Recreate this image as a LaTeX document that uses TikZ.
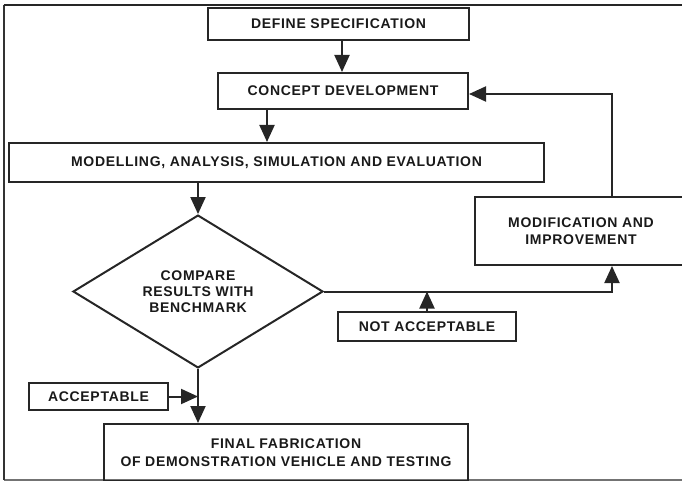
\documentclass[tikz,border=0pt]{standalone}
\usepackage{fontspec}
\setmainfont[LetterSpace=5]{Liberation Sans}
\usetikzlibrary{arrows.meta,shapes.geometric,calc}
\begin{document}
\begin{tikzpicture}[x=1pt,y=-1pt,
  box/.style={draw=black!85, line width=2pt, inner sep=0pt, align=center, anchor=north west,
    text=black!90, font=\fontsize{14}{17}\selectfont\bfseries},
  arr/.style={draw=black!85, line width=2pt, -{Triangle[width=15pt,length=17pt]}},
  frame/.style={line width=1.5pt}]
\useasboundingbox (0,0) rectangle (682,481);
% outer frame
\draw[frame, black!55] (4,480) -- (682,480);
\draw[frame, black!80] (4,5) -- (4,480);
\draw[line width=2.2pt, black!85] (3.5,5) -- (682,5);
% nodes
\node[box, minimum width=261pt, minimum height=32pt] (ds) at (207,7) {DEFINE SPECIFICATION};
\node[box, minimum width=250pt, minimum height=36pt] (cd) at (217,72) {CONCEPT DEVELOPMENT};
\node[box, minimum width=535pt, minimum height=39pt] (mo) at (8,142) {MODELLING, ANALYSIS, SIMULATION AND EVALUATION};
\node[box, diamond, anchor=center, minimum width=250pt, minimum height=117pt, font=\fontsize{14}{16}\selectfont\bfseries] (dia) at (198,291.5) {COMPARE\\RESULTS WITH\\BENCHMARK};
\node[box, minimum width=212pt, minimum height=68pt] (mod) at (474,196) {MODIFICATION AND\\IMPROVEMENT};
\node[box, minimum width=178pt, minimum height=29pt] (na) at (337,311) {NOT ACCEPTABLE};
\node[box, minimum width=139pt, minimum height=27pt] (acc) at (28,382) {ACCEPTABLE};
\node[box, minimum width=364pt, minimum height=57pt, font=\fontsize{14}{18}\selectfont\bfseries] (fin) at (103,423) {FINAL FABRICATION\\OF DEMONSTRATION VEHICLE AND TESTING};
% helper coordinates
\coordinate (xa) at (342,0);
\coordinate (xb) at (267,0);
\coordinate (xc) at (612,0);
\coordinate (xd) at (427,0);
\coordinate (ye) at (0,94);
% connectors
\draw[arr] (ds.south -| xa) -- (cd.north -| xa);
\draw[arr] (cd.south -| xb) -- (mo.north -| xb);
\draw[arr] (mo.south -| dia.north) -- (dia.north);
\draw[arr] (dia.south) -- (dia.south |- fin.north);
\draw[arr] (acc.east) -- (dia.south |- acc.east);
\draw[arr] (dia.east) -| (mod.south -| xc);
\draw[arr] (na.north -| xd) -- (xd |- dia.east);
\draw[arr] (mod.north -| xc) |- (cd.east |- ye);
\end{tikzpicture}
\end{document}
